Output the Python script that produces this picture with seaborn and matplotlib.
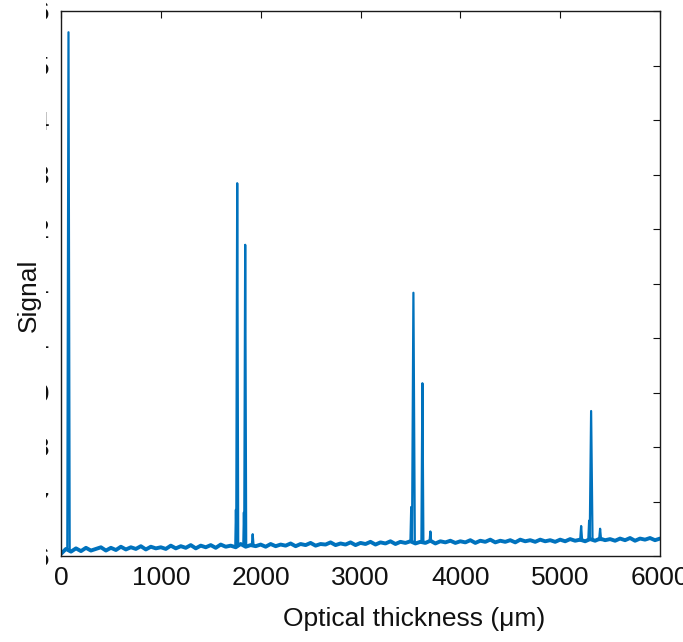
import numpy as np
import pandas as pd
import matplotlib
matplotlib.use("Agg")
import matplotlib.pyplot as plt
import seaborn as sns
from matplotlib.transforms import Bbox, TransformedBbox

# baseline readings, every 50 um
base_x = list(range(0, 6050, 50))
base_y = [0.604, 0.613, 0.608, 0.614, 0.609, 0.615, 0.610, 0.613, 0.616, 0.610,
          0.615, 0.611, 0.617, 0.612, 0.616, 0.613, 0.618, 0.612, 0.617, 0.614,
          0.616,
          0.613, 0.619, 0.614, 0.618, 0.615, 0.620, 0.614, 0.619, 0.616, 0.620,
          0.615, 0.621, 0.617, 0.619, 0.616, 0.622, 0.617, 0.620, 0.618, 0.621,
          0.617, 0.622, 0.618, 0.621, 0.619, 0.623, 0.618, 0.622, 0.620, 0.624,
          0.619, 0.622, 0.621, 0.625, 0.620, 0.623, 0.621, 0.625, 0.620, 0.624,
          0.622, 0.626, 0.621, 0.625, 0.623, 0.627, 0.622, 0.626, 0.624, 0.627,
          0.623, 0.626, 0.624, 0.628, 0.623, 0.627, 0.625, 0.628, 0.624, 0.627,
          0.625, 0.629, 0.624, 0.628, 0.626, 0.630, 0.625, 0.628, 0.626, 0.629,
          0.625, 0.630, 0.627, 0.629, 0.626, 0.630, 0.627, 0.629, 0.626, 0.630,
          0.627, 0.631, 0.628, 0.630, 0.627, 0.631, 0.628, 0.632, 0.629, 0.631,
          0.628, 0.632, 0.629, 0.633, 0.628, 0.632, 0.630, 0.633, 0.629, 0.632]

# peaks: position, top, foot level, half width
peak_x = [75, 1752, 1765, 1832, 1845, 1920, 3508, 3530, 3620, 3700, 5210, 5290, 5310, 5400]
peak_top = [1.561, 0.685, 1.284, 0.680, 1.171, 0.640, 0.690, 1.083, 0.917, 0.645, 0.655, 0.665, 0.866, 0.650]
peak_base = [0.612, 0.620, 0.620, 0.620, 0.620, 0.621, 0.626, 0.626, 0.624, 0.626, 0.628, 0.630, 0.630, 0.629]
peak_hw = [12, 6, 10, 6, 10, 8, 8, 14, 10, 8, 10, 8, 14, 10]

yticks = [0.6, 0.7, 0.8, 0.9, 1.0, 1.1, 1.2, 1.3, 1.4, 1.5, 1.6]
xticks = [0, 1000, 2000, 3000, 4000, 5000, 6000]

sns.set_style("white")
plt.rcParams['font.family'] = ['Liberation Sans', 'DejaVu Sans']
color = "#0072BD"

fig = plt.figure(figsize=(6.83, 6.42), dpi=100)
ax = fig.add_axes([61/683, 1 - 556/642, 599/683, 545/642])

base_df = pd.DataFrame({"x": base_x, "y": base_y})
sns.lineplot(data=base_df, x="x", y="y", ax=ax, color=color, lw=2.8,
             estimator=None, sort=False)

rows = []
for i, (px, pt, pb, hw) in enumerate(zip(peak_x, peak_top, peak_base, peak_hw)):
    rows += [(i, px - hw, pb), (i, px, pt), (i, px + hw, pb)]
peak_df = pd.DataFrame(rows, columns=["peak", "x", "y"])
sns.lineplot(data=peak_df, x="x", y="y", units="peak", ax=ax, color=color,
             lw=1.6, estimator=None, sort=False)

ax.set_xlim(0, 6000)
ax.set_ylim(0.6, 1.6)
ax.set_xticks(xticks)
ax.set_yticks(yticks)
ax.set_yticklabels([f"{v:g}" for v in yticks])
ax.tick_params(direction="in", top=True, right=True, length=5, width=0.8,
               labelsize=19, colors="#111111")
ax.tick_params(axis="x", pad=7)
ax.tick_params(axis="y", pad=8)
for s in ax.spines.values():
    s.set_color("#1a1a1a")
    s.set_linewidth(1.0)

ax.set_xlabel("Optical thickness (μm)", fontsize=19, color="#111111")
ax.set_ylabel("Signal", fontsize=19, color="#111111")
ax.xaxis.set_label_coords(0.589, -0.093)
ax.yaxis.set_label_coords(-0.033, 0.479)

fig.canvas.draw()
clip = TransformedBbox(Bbox([[45.5/683, 0], [51/683, 1]]), fig.transFigure)
for lab in ax.get_yticklabels():
    lab.set_clip_box(clip)
    lab.set_clip_on(True)

fig.savefig("out.png", dpi=100)
